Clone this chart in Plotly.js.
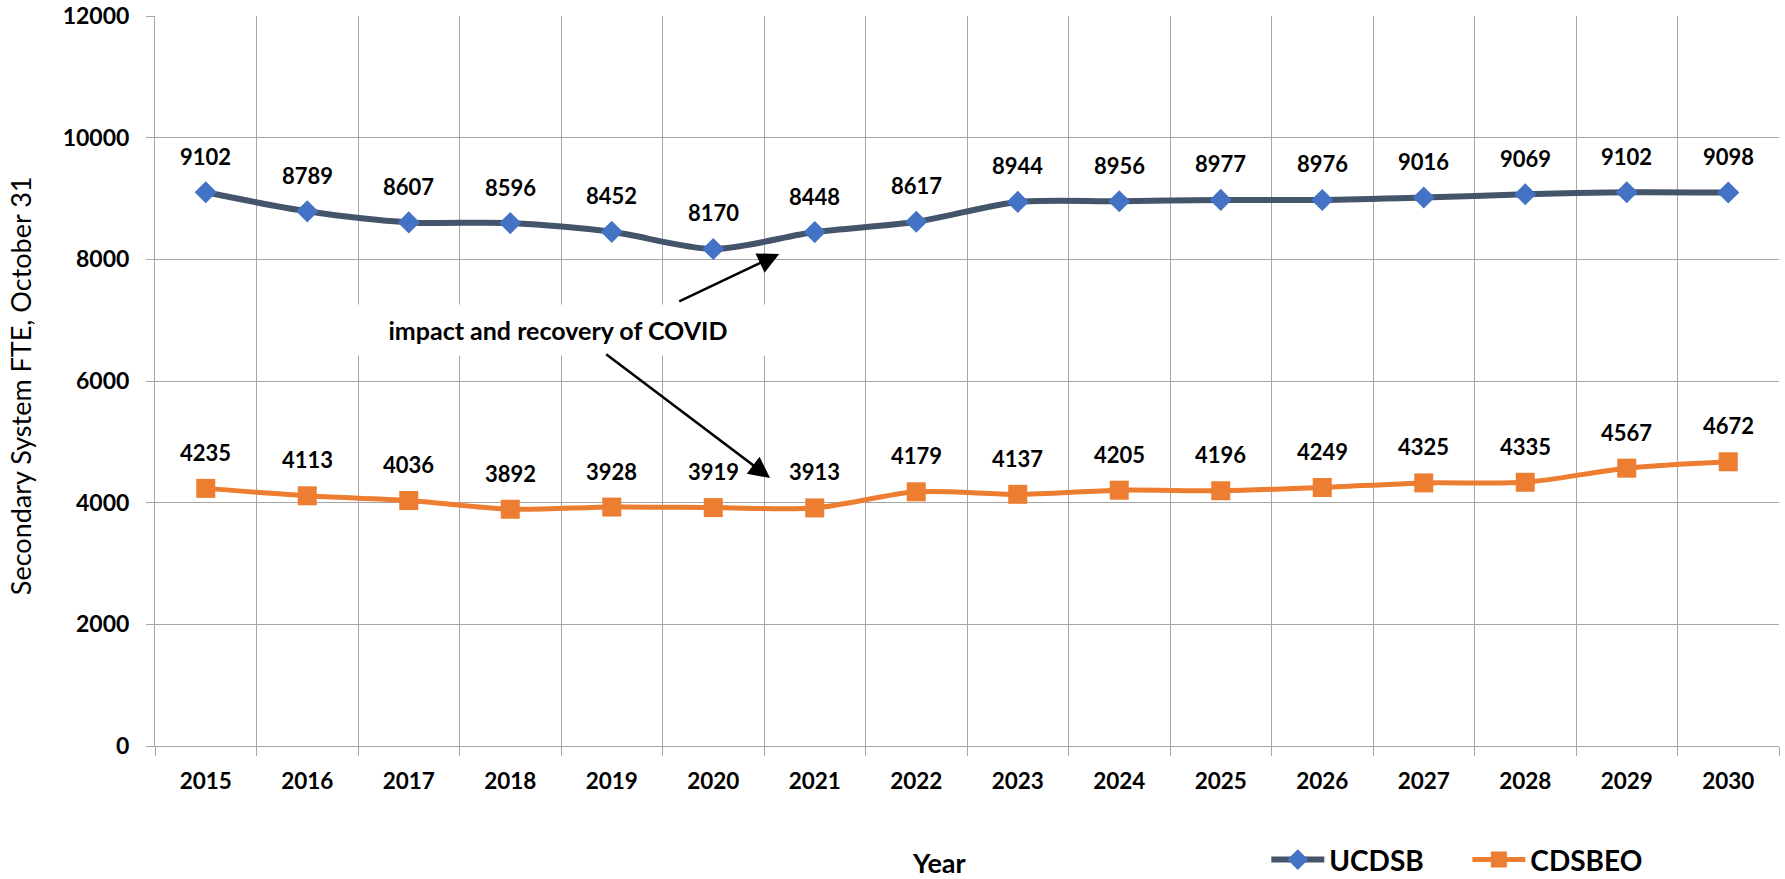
<!DOCTYPE html>
<html>
<head>
<meta charset="utf-8">
<script src="https://cdn.plot.ly/plotly-3.0.1.min.js"></script>
<style>html,body{margin:0;padding:0;background:#fff;}#chart{width:1785px;height:879px;}</style>
</head>
<body>
<div id="chart"></div>
<script>
const years = ['2015','2016','2017','2018','2019','2020','2021','2022','2023','2024','2025','2026','2027','2028','2029','2030'];
const ucdsb = [9102, 8789, 8607, 8596, 8452, 8170, 8448, 8617, 8944, 8956, 8977, 8976, 9016, 9069, 9102, 9098];
const cdsbeo = [4235, 4113, 4036, 3892, 3928, 3919, 3913, 4179, 4137, 4205, 4196, 4249, 4325, 4335, 4567, 4672];
const seriesNames = ['UCDSB', 'CDSBEO'];
const yTitle = 'Secondary System FTE, October 31';
const xTitle = 'Year';
const noteText = 'impact and recovery of COVID';

const FONT = 'Lato, "Open Sans", sans-serif';
const grid = '#A6A6A6';

const idx = years.map((_, i) => i);
const bounds = years.concat(['']).map((_, i) => i - 0.5);
const xr = [-0.5, years.length - 0.5];

const traces = [
  {
    x: idx, y: ucdsb, name: seriesNames[0], type: 'scatter', mode: 'lines+markers', legend: 'legend',
    line: {color: '#44546A', width: 6, shape: 'spline', smoothing: 0.8},
    marker: {symbol: 'diamond', size: 17, color: '#4472C4'}
  },
  {
    x: idx, y: cdsbeo, name: seriesNames[1], type: 'scatter', mode: 'lines+markers', legend: 'legend2',
    line: {color: '#ED7D31', width: 5, shape: 'spline', smoothing: 0.8},
    marker: {symbol: 'square', size: 19, color: '#ED7D31'}
  },
  {x: [xr[0]], y: [0], xaxis: 'x2', yaxis: 'y', type: 'scatter', mode: 'markers',
   marker: {opacity: 0}, showlegend: false, hoverinfo: 'skip'}
];

const labelFont = {family: FONT, size: 22, color: '#000', weight: 700};
const annotations = [];
[ucdsb, cdsbeo].forEach(arr => {
  arr.forEach((v, i) => {
    annotations.push({x: idx[i], y: v, xref: 'x', yref: 'y', text: String(v),
      showarrow: false, yshift: 36, yanchor: 'middle', font: labelFont});
  });
});

// COVID note box and arrows
annotations.push({x: 3.47, y: 6838, xref: 'x', yref: 'y', text: noteText, showarrow: false,
  bgcolor: '#fff', width: 470, height: 48, font: {family: FONT, size: 25, color: '#000', weight: 700}});
annotations.push({x: 5.65, y: 8088, ax: 4.65, ay: 7299, xref: 'x', yref: 'y', axref: 'x', ayref: 'y',
  text: '', showarrow: true, arrowhead: 2, arrowsize: 1.7, arrowwidth: 2.5, arrowcolor: '#000'});
annotations.push({x: 5.56, y: 4405, ax: 3.93, ay: 6460, xref: 'x', yref: 'y', axref: 'x', ayref: 'y',
  text: '', showarrow: true, arrowhead: 2, arrowsize: 1.7, arrowwidth: 2.5, arrowcolor: '#000'});

// axis titles placed as in the reference
annotations.push({x: -0.0831, y: 0.493, xref: 'paper', yref: 'paper', text: yTitle, textangle: -90,
  showarrow: false, xanchor: 'center', yanchor: 'middle', font: {family: FONT, size: 27, color: '#000'}});
annotations.push({x: 0.4828, y: -0.159, xref: 'paper', yref: 'paper', text: xTitle,
  showarrow: false, xanchor: 'center', yanchor: 'middle', font: {family: FONT, size: 27, color: '#000', weight: 700}});

const legendFont = {family: FONT, size: 28, color: '#000', weight: 700};

const layout = {
  width: 1785, height: 879,
  margin: {l: 155, r: 6, t: 16, b: 133, autoexpand: false},
  paper_bgcolor: '#fff', plot_bgcolor: '#fff',
  showlegend: true,
  legend: {orientation: 'h', x: 0.6843, y: -0.156, xanchor: 'left', yanchor: 'middle',
    font: legendFont, itemwidth: 53, entrywidth: 135, entrywidthmode: 'pixels'},
  legend2: {orientation: 'h', x: 0.8081, y: -0.156, xanchor: 'left', yanchor: 'middle',
    font: legendFont, itemwidth: 53, entrywidth: 145, entrywidthmode: 'pixels'},
  xaxis: {
    range: xr, tickvals: idx, ticktext: years, ticks: '', showgrid: false, zeroline: false,
    showline: true, linecolor: grid, linewidth: 1,
    tickfont: {family: FONT, size: 22.5, color: '#000', weight: 700}, ticklabelstandoff: 15,
    automargin: false, fixedrange: true
  },
  xaxis2: {
    overlaying: 'x', side: 'bottom', range: xr, tickvals: bounds, ticks: 'outside', ticklen: 9, tickcolor: grid,
    showticklabels: false, showgrid: true, gridcolor: grid, gridwidth: 1, zeroline: false, showline: false,
    automargin: false, fixedrange: true
  },
  yaxis: {
    range: [0, 12000], dtick: 2000, tick0: 0, tickformat: 'd', ticks: 'outside', ticklen: 8, tickcolor: grid,
    showgrid: true, gridcolor: grid, gridwidth: 1, showline: true, linecolor: grid, linewidth: 1,
    zeroline: false,
    tickfont: {family: FONT, size: 23, color: '#000', weight: 700}, ticklabelstandoff: 12,
    automargin: false, fixedrange: true
  },
  annotations: annotations
};

Plotly.newPlot('chart', traces, layout, {displayModeBar: false, staticPlot: true});
</script>
</body>
</html>
